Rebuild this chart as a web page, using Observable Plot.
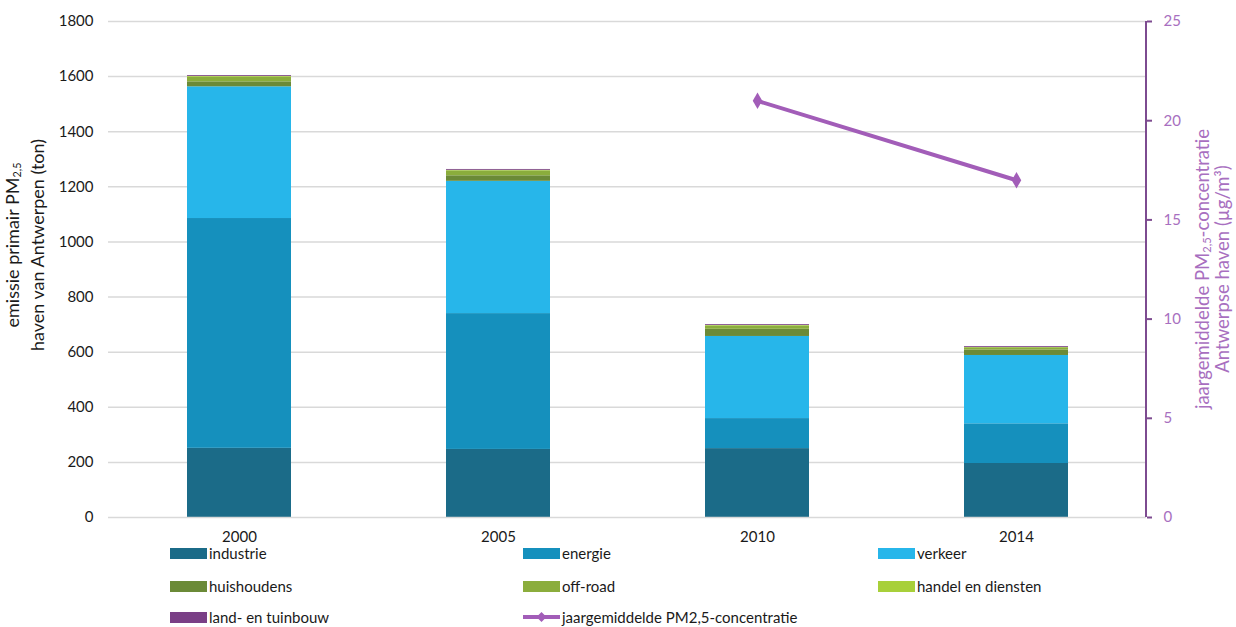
<!DOCTYPE html>
<html>
<head>
<meta charset="utf-8">
<script src="https://cdn.jsdelivr.net/npm/d3@7"></script>
<script src="https://cdn.jsdelivr.net/npm/@observablehq/plot@0.6"></script>
<style>
  html, body { margin: 0; padding: 0; background: #fff; }
  #wrap { position: relative; width: 1236px; height: 627px; font-family: Lato, "Open Sans", sans-serif; color: #1a1a1a; overflow: hidden; }
  #chart svg { display: block; }
  .ylab { position: absolute; white-space: nowrap; text-align: center; transform-origin: center center; }
  .ylab sub { font-size: 0.6em; vertical-align: -2px; line-height: 0; }
  .legend-item { position: absolute; display: flex; align-items: center; font-size: 15px; white-space: nowrap; }
  .sw { width: 37px; height: 11px; margin-right: 2px; }
</style>
</head>
<body>
<div id="wrap">
  <div id="chart"></div>
</div>
<script>
// Emission of primary PM2.5 in the port of Antwerp (ton), by sector
const years = ["2000", "2005", "2010", "2014"];
const sectors = ["industrie", "energie", "verkeer", "huishoudens", "off-road", "handel en diensten", "land- en tuinbouw"];
const industrie = [251, 247, 250, 196];
const energie = [834, 493, 109, 144];
const verkeer = [478, 480, 298, 248];
const huishoudens = [18, 20, 26, 20];
const offRoad = [17, 18, 12, 8];
const handelDiensten = [3, 2, 2, 1];
const landTuinbouw = [3, 3, 3, 3];

// Annual mean PM2.5 concentration (µg/m³)
const concYears = ["2010", "2014"];
const concentratie = [21, 17];

const leftTicks = [0, 200, 400, 600, 800, 1000, 1200, 1400, 1600, 1800];
const rightTicks = [0, 5, 10, 15, 20, 25];

const sectorColors = ["#1b6b88", "#1590bd", "#27b6ea", "#6b8a37", "#8bad3c", "#a8d03a", "#7a3f86"];
const lineColor = "#a25db8";
const axisPurple = "#7d4b90";
const labelPurple = "#a86fc0";

const series = [industrie, energie, verkeer, huishoudens, offRoad, handelDiensten, landTuinbouw];
const table = [];
years.forEach((year, i) => {
  sectors.forEach((sector, s) => table.push({year, sector, value: series[s][i]}));
});
const conc = concYears.map((year, i) => ({year, value: concentratie[i]}));

// second axis maps 0–25 µg/m³ onto the 0–1800 ton range
const k = 1800 / 25;

const chart = Plot.plot({
  width: 1236,
  height: 548,
  marginTop: 21,
  marginBottom: 31,
  marginLeft: 108,
  marginRight: 90,
  style: {fontFamily: "Lato, 'Open Sans', sans-serif", fontSize: "15px", color: "#1a1a1a", background: "#fff"},
  x: {domain: years, paddingInner: 0.6, paddingOuter: 0.3, label: null},
  y: {domain: [0, 1800], label: null},
  color: {domain: sectors, range: sectorColors},
  marks: [
    Plot.gridY(leftTicks.filter(d => d > 0), {stroke: "#d9d9d9", strokeOpacity: 1, strokeWidth: 1.5}),
    Plot.barY(table, Plot.stackY({x: "year", y: "value", fill: "sector"})),
    Plot.ruleY([0], {stroke: "#d9d9d9", strokeWidth: 1.5}),
    Plot.axisY(leftTicks, {anchor: "left", tickSize: 0, tickPadding: 15, label: null, fontSize: 15, tickFormat: d3.format("d")}),
    Plot.axisX({anchor: "bottom", tickSize: 0, tickPadding: 14, label: null, fontSize: 15}),
    Plot.line(conc, {x: "year", y: d => d.value * k, stroke: lineColor, strokeWidth: 4}),
    Plot.dot(conc, {x: "year", y: d => d.value * k, symbol: "diamond", r: 5, fill: lineColor}),
    Plot.axisY(rightTicks.map(d => d * k), {
      anchor: "right", tickSize: 5, tickPadding: 12,
      stroke: axisPurple, fill: labelPurple, strokeWidth: 2,
      tickFormat: d => d / k, label: null, fontSize: 15
    })
  ]
});
document.getElementById("chart").appendChild(chart);

// vertical line of the right-hand axis, placed with the chart's own y scale
const yScale = chart.scale("y");
const xRight = 1236 - 90;
d3.select(chart).append("line")
  .attr("x1", xRight).attr("x2", xRight)
  .attr("y1", yScale.apply(0)).attr("y2", yScale.apply(1800))
  .attr("stroke", axisPurple).attr("stroke-width", 2);

const wrap = document.getElementById("wrap");

// axis titles (two lines each, rotated)
function axisTitle(html, cx, cy, color, size, lineHeight) {
  const el = document.createElement("div");
  el.className = "ylab";
  el.innerHTML = html;
  el.style.color = color;
  el.style.fontSize = size + "px";
  el.style.lineHeight = lineHeight + "px";
  wrap.appendChild(el);
  const w = el.offsetWidth, h = el.offsetHeight;
  el.style.left = (cx - w / 2) + "px";
  el.style.top = (cy - h / 2) + "px";
  el.style.transform = "rotate(-90deg)";
}
axisTitle("emissie primair PM<sub>2,5</sub><br>haven van Antwerpen (ton)", 25, 245, "#1a1a1a", 18, 25);
axisTitle("jaargemiddelde PM<sub>2,5</sub>-concentratie<br>Antwerpse haven (µg/m³)", 1212, 269, labelPurple, 18.5, 20);

// legend below the chart
const legendItems = sectors.map((s, i) => ({label: s, color: sectorColors[i], type: "rect"}));
legendItems.push({label: "jaargemiddelde PM2,5-concentratie", color: lineColor, type: "line"});
const colX = [170, 523, 878];
const rowY = [553, 586, 617];
legendItems.forEach((item, i) => {
  const el = document.createElement("div");
  el.className = "legend-item";
  el.style.left = colX[i % 3] + "px";
  el.style.top = (rowY[Math.floor(i / 3)] - 10) + "px";
  el.style.height = "20px";
  if (item.type === "rect") {
    el.innerHTML = `<div class="sw" style="background:${item.color}"></div><span>${item.label}</span>`;
  } else {
    el.innerHTML = `<svg width="37" height="12" style="margin-right:2px"><line x1="0" x2="37" y1="6" y2="6" stroke="${item.color}" stroke-width="4"/><path d="M18.5,1 L23.5,6 L18.5,11 L13.5,6 Z" fill="${item.color}"/></svg><span>${item.label}</span>`;
  }
  wrap.appendChild(el);
});
</script>
</body>
</html>
